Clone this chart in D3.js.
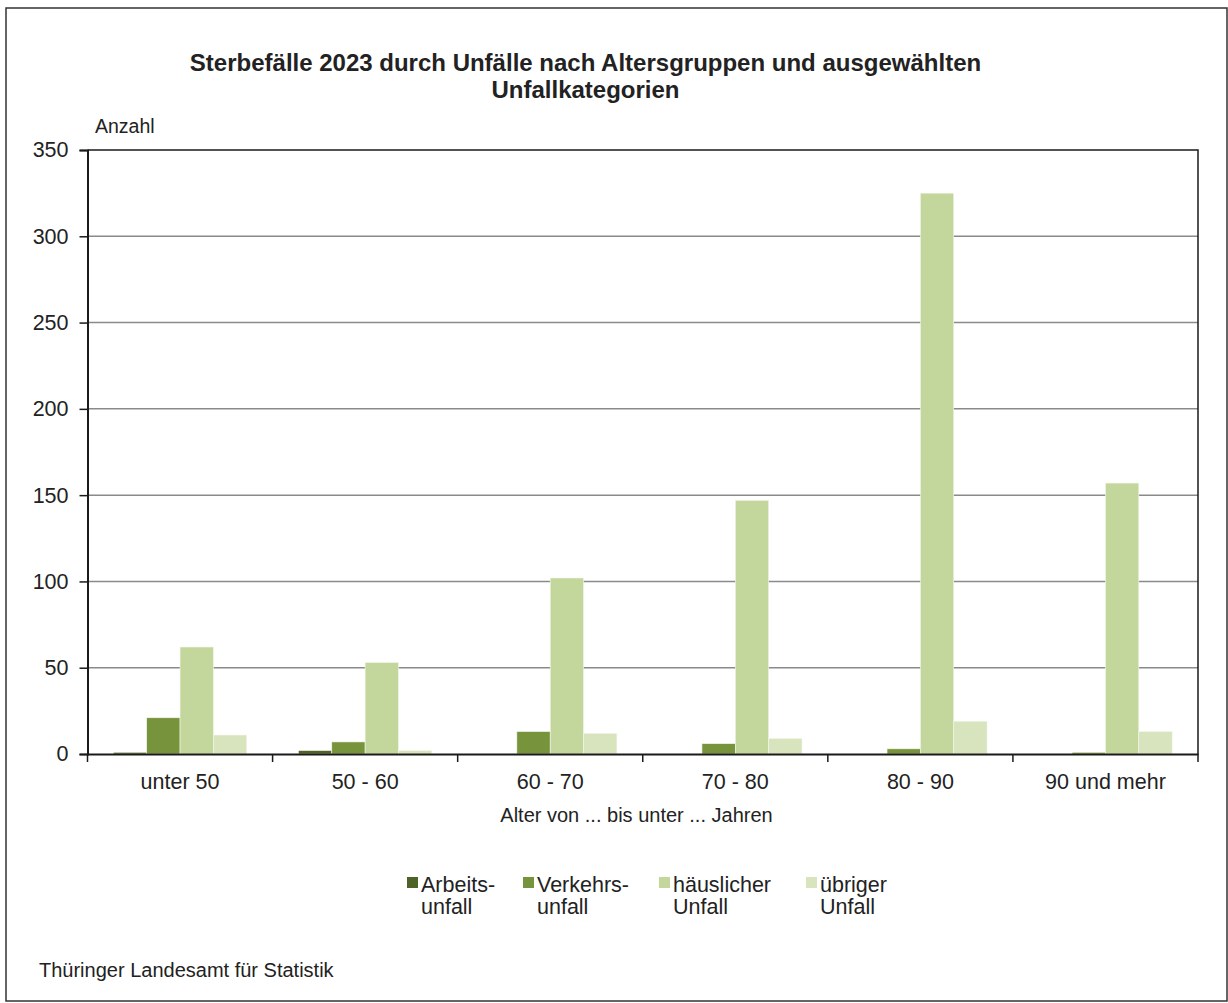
<!DOCTYPE html>
<html lang="de">
<head>
    <meta charset="UTF-8">
    <title>Sterbefälle 2023 durch Unfälle</title>
    <script src="https://d3js.org/d3.v7.min.js"></script>
    <style>
        body { margin: 0; background: #fff; }
        svg { display: block; font-family: "Liberation Sans", Arial, sans-serif; }
    </style>
</head>
<body>
    <div id="chart"></div>
    <script>
        // Altersgruppen
        const groups = ["unter 50", "50 - 60", "60 - 70", "70 - 80", "80 - 90", "90 und mehr"];
        // Unfallkategorien (Legende, zweizeilig)
        const series = ["Arbeitsunfall", "Verkehrsunfall", "häuslicher Unfall", "übriger Unfall"];
        const seriesLines = [["Arbeits-", "unfall"], ["Verkehrs-", "unfall"], ["häuslicher", "Unfall"], ["übriger", "Unfall"]];
        const colors = ["#4f6228", "#77933c", "#c3d69b", "#d7e4bd"];
        // Werte je Kategorie, Reihenfolge wie groups
        const arbeits = [1, 2, 0, 0, 0, 0];
        const verkehr = [21, 7, 13, 6, 3, 1];
        const haeuslich = [62, 53, 102, 147, 325, 157];
        const uebrig = [11, 2, 12, 9, 19, 13];
        const values = [arbeits, verkehr, haeuslich, uebrig];
        const yTicks = [0, 50, 100, 150, 200, 250, 300, 350];

        const W = 1228, H = 1003;
        const m = { left: 87.5, right: 1198, top: 150, bottom: 754 };
        const ink = "#222";

        const svg = d3.select("#chart").append("svg")
            .attr("width", W)
            .attr("height", H);

        // Rahmen
        svg.append("rect")
            .attr("x", 6).attr("y", 8)
            .attr("width", 1221).attr("height", 993)
            .attr("fill", "none")
            .attr("stroke", "#333")
            .attr("stroke-width", 1.5);

        const x0 = d3.scaleBand().domain(groups).range([m.left, m.right]);
        const x1 = d3.scaleBand().domain(series).range([0, x0.bandwidth()]).paddingOuter(0.775);
        const y = d3.scaleLinear().domain([0, 350]).range([m.bottom, m.top]);

        // Gitterlinien
        svg.append("g")
            .selectAll("line")
            .data(yTicks.filter(d => d > 0 && d < 350))
            .join("line")
            .attr("x1", m.left).attr("x2", m.right)
            .attr("y1", d => y(d)).attr("y2", d => y(d))
            .attr("stroke", "#8a8a8a")
            .attr("stroke-width", 1.5);

        // Balken
        const g = svg.append("g")
            .selectAll("g")
            .data(groups)
            .join("g")
            .attr("transform", d => `translate(${x0(d)},0)`);

        g.selectAll("rect")
            .data((d, i) => series.map((s, k) => ({ s, k, v: values[k][i] })))
            .join("rect")
            .filter(d => d.v > 0)
            .attr("x", d => x1(d.s))
            .attr("width", x1.bandwidth())
            .attr("y", d => y(d.v))
            .attr("height", d => y(0) - y(d.v))
            .attr("fill", d => colors[d.k])
            .attr("stroke", "#f4f7ec")
            .attr("stroke-width", 0.6);

        // Plotrahmen oben/rechts
        svg.append("path")
            .attr("d", `M${m.left},${m.top}H${m.right}V${m.bottom}`)
            .attr("fill", "none")
            .attr("stroke", "#1a1a1a")
            .attr("stroke-width", 1.5);

        // y-Achse
        const yAxis = svg.append("g")
            .attr("transform", `translate(${m.left},0)`)
            .call(d3.axisLeft(y).tickValues(yTicks).tickSize(8).tickPadding(11));
        yAxis.select(".domain").attr("stroke", "#1a1a1a").attr("stroke-width", 2);
        yAxis.selectAll(".tick line").attr("stroke", "#1a1a1a").attr("stroke-width", 1.5);
        yAxis.selectAll("text").attr("font-size", "21.5px").attr("fill", ink).attr("font-family", "Liberation Sans, Arial, sans-serif");

        // x-Achse
        const xAxis = svg.append("g")
            .attr("transform", `translate(0,${m.bottom})`)
            .call(d3.axisBottom(x0).tickSize(0).tickPadding(20));
        xAxis.select(".domain").attr("stroke", "#1a1a1a").attr("stroke-width", 2);
        xAxis.selectAll("text").attr("font-size", "21.5px").attr("fill", ink).attr("font-family", "Liberation Sans, Arial, sans-serif");

        // Trennstriche zwischen Gruppen
        svg.append("g")
            .selectAll("line")
            .data(groups.map(d => x0(d)).concat([m.right]))
            .join("line")
            .attr("x1", d => d).attr("x2", d => d)
            .attr("y1", m.bottom).attr("y2", m.bottom + 8)
            .attr("stroke", "#1a1a1a")
            .attr("stroke-width", 1.5);

        // Titel
        const title = svg.append("text")
            .attr("text-anchor", "middle")
            .attr("font-weight", "bold")
            .attr("font-size", "24px")
            .attr("fill", ink);
        title.append("tspan").attr("x", 585.5).attr("y", 71).text("Sterbefälle 2023 durch Unfälle nach Altersgruppen und ausgewählten");
        title.append("tspan").attr("x", 585.5).attr("y", 98).text("Unfallkategorien");

        svg.append("text")
            .attr("x", 95).attr("y", 132.5)
            .attr("font-size", "19.5px")
            .attr("fill", ink)
            .text("Anzahl");

        svg.append("text")
            .attr("x", 636.5).attr("y", 822)
            .attr("text-anchor", "middle")
            .attr("font-size", "20px")
            .attr("fill", ink)
            .text("Alter von ... bis unter ... Jahren");

        // Legende
        const legendX = [407, 523, 659, 806];
        const leg = svg.append("g")
            .selectAll("g")
            .data(series)
            .join("g")
            .attr("transform", (d, i) => `translate(${legendX[i]},877)`);
        leg.append("rect")
            .attr("width", 11).attr("height", 11)
            .attr("fill", (d, i) => colors[i]);
        leg.append("text")
            .attr("font-size", "21.5px")
            .attr("fill", ink)
            .selectAll("tspan")
            .data((d, i) => seriesLines[i])
            .join("tspan")
            .attr("x", 14)
            .attr("y", (d, j) => 14.5 + j * 22.5)
            .text(d => d);

        svg.append("text")
            .attr("x", 39).attr("y", 977)
            .attr("font-size", "20px")
            .attr("fill", ink)
            .text("Thüringer Landesamt für Statistik");
    </script>
</body>
</html>
